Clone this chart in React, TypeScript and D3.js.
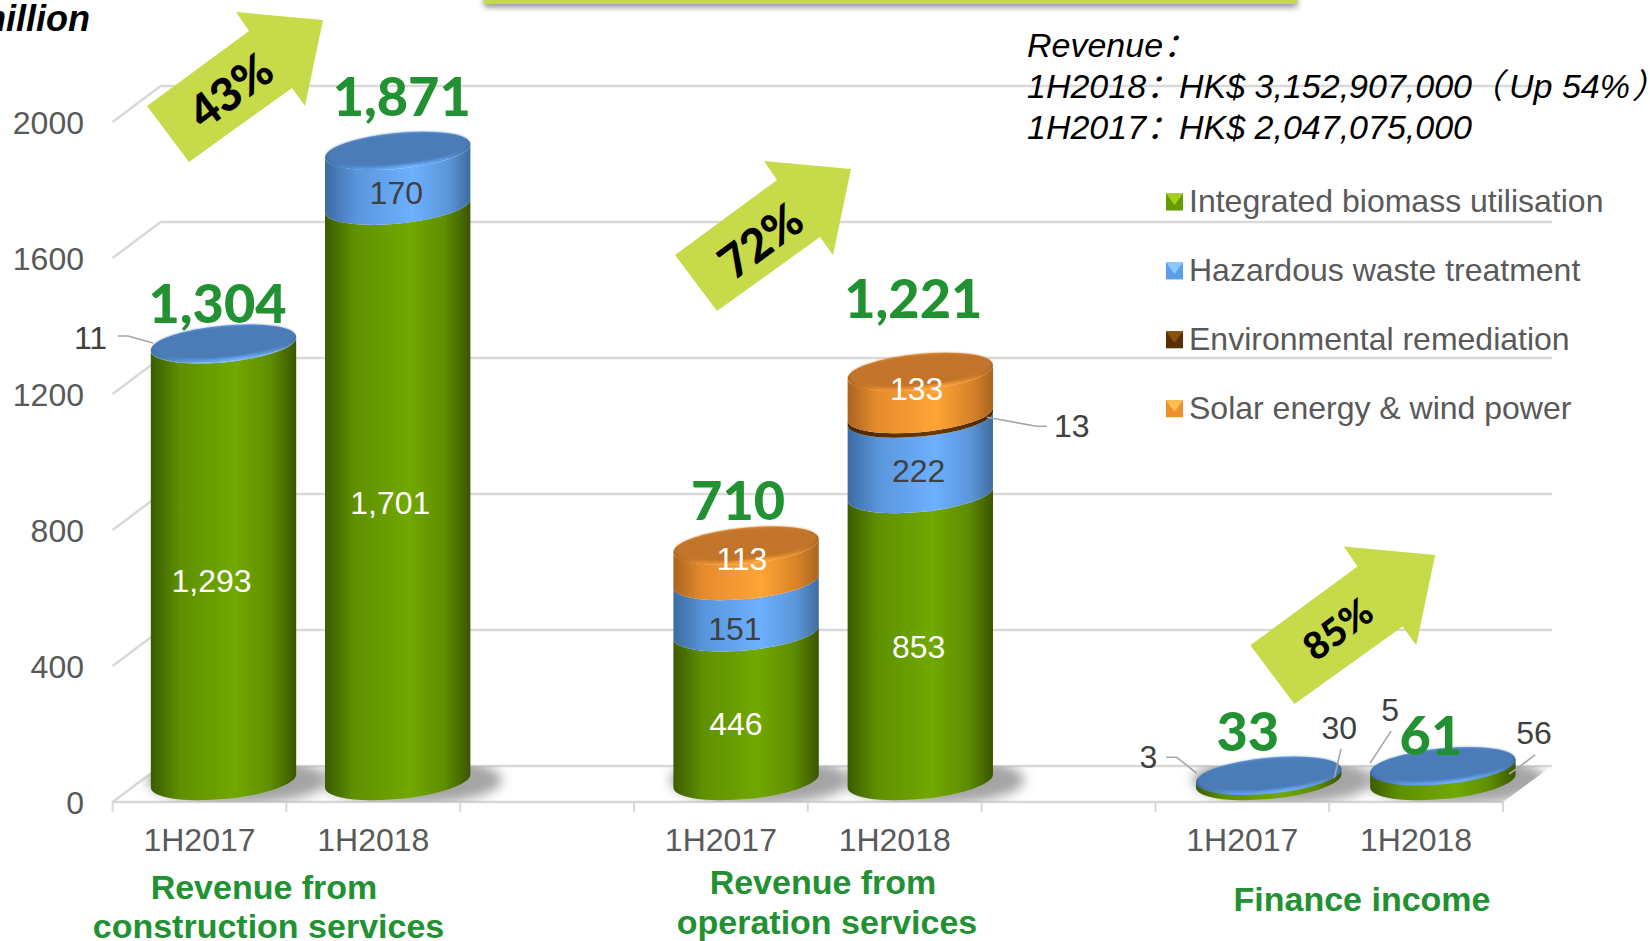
import React from "react";
import * as d3 from "d3";

const periods = ["1H2017", "1H2018", "", "1H2017", "1H2018", "", "1H2017", "1H2018"];
const seriesNames = ["Integrated biomass utilisation", "Hazardous waste treatment", "Environmental remediation", "Solar energy & wind power"];
const biomass = [1293, 1701, 0, 446, 853, 0, 30, 56];
const hazardous = [11, 170, 0, 151, 222, 0, 3, 5];
const remediation = [0, 0, 0, 0, 13, 0, 0, 0];
const solarWind = [0, 0, 0, 113, 133, 0, 0, 0];
const totals = ["1,304", "1,871", "", "710", "1,221", "", "33", "61"];
const yTicks = [0, 400, 800, 1200, 1600, 2000];
const growthLabels = ["43%", "72%", "85%"];
const groupTitles = [["Revenue from", "construction services"], ["Revenue from", "operation services"], ["Finance income"]];

const FONT = "'Liberation Sans', Arial, sans-serif";
const CJK = "'Liberation Sans', 'Noto Sans CJK SC', sans-serif";
const GREEN = "#229131";
const GRID = "#d9d9d9";
const DEPTH_X = 48;
const DEPTH_Y = 36;
const RX = 73;
const RY = 18;
const TILT = -5.5;
const TOP_BEVEL = 3;
const BASE_LIFT = 3;

const x = d3.scaleBand<number>().domain(d3.range(periods.length)).range([112.6, 1503]);
const yBack = d3.scaleLinear().domain([0, 2000]).range([766, 86]);
const yFront = (v: number) => yBack(v) + DEPTH_Y;
const yCyl = (v: number) => yBack(v) + DEPTH_Y / 2;
const anchorX = (i: number) => (x(i) as number) + x.bandwidth() / 2 + DEPTH_X / 2;
const cx = (i: number) => anchorX(i) + i * 0.4;

const rows = periods.map((_, i) => ({ a: biomass[i], b: hazardous[i], c: remediation[i], d: solarWind[i] }));
const stacked = d3.stack<any>().keys(["a", "b", "c", "d"])(rows);
const fills = ["green", "blue", "brown", "orange"];
const topColors = ["#4f7f10", "#4c7cb8", "#5a3000", "#c2742a"];

const th = (TILT * Math.PI) / 180;
const xExt = Math.sqrt(RX * RX * Math.cos(th) ** 2 + RY * RY * Math.sin(th) ** 2);
const dyR = ((RX * RX - RY * RY) * Math.sin(th) * Math.cos(th)) / xExt;

function segPath(c: number, yt: number, yb: number) {
  return `M${c - xExt},${yt - dyR}A${RX},${RY} ${TILT} 0 0 ${c + xExt},${yt + dyR}L${c + xExt},${yb + dyR}A${RX},${RY} ${TILT} 0 1 ${c - xExt},${yb - dyR}Z`;
}

// label placement relative to the segment centre: [bar, series, dx, dy, colour]
const labelPlacement: [number, number, number, number, string][] = [
  [0, 0, -12, 17, "#fff"], [0, 1, -133, -5, "#404040"],
  [1, 0, -7, 8, "#fff"], [1, 1, -1, 16, "#404040"],
  [3, 0, -9, 16, "#fff"], [3, 1, -10, 22, "#404040"], [3, 3, -3, -3, "#fff"],
  [4, 0, 0, 8, "#fff"], [4, 1, 0, 15, "#404040"], [4, 2, 153, 10, "#404040"], [4, 3, -2, -2, "#fff"],
  [6, 0, 73, -51, "#404040"], [6, 1, -118, -16, "#404040"],
  [7, 0, 94, -41, "#404040"], [7, 1, -50, -54, "#404040"],
];
const leaders: [number, number, [number, number][]][] = [
  [0, 1, [[-105.5, -6.5], [-95.5, -6.5], [-70.5, 0.5]]],
  [4, 2, [[128, 10], [118, 10], [68, 1]]],
  [6, 1, [[-100, -16], [-89.5, -16], [-69.5, 0]]],
  [6, 0, [[74.7, -30], [68, -1]]],
  [7, 1, [[-49, -33], [-70, -1]]],
  [7, 0, [[95, -19.5], [79, -7.5], [69, -0.5]]],
];
const totalOffsets: Record<number, [number, number]> = { 0: [-6, -18], 1: [4, -32], 3: [-8, -23], 4: [-7, -51], 6: [-21, -22], 7: [-12, -8] };

const arrowShape = "147,106 189,162 292,88 305,106 323,20 236,12 249,31";
const arrowPlacement = [
  { tx: 0, ty: 0, s: 1, cx: 230, cy: 90, size: 46 },
  { tx: 528, ty: 149, s: 1, cx: 760, cy: 240, size: 46 },
  { tx: 1096, ty: 534, s: 1.05, cx: 1337, cy: 628, size: 38 },
];
const titlePlacement = [
  [[264, 899], [268.5, 938]],
  [[823, 894], [827, 934]],
  [[1362, 911]],
];

const midY = (bar: number, s: number) => yCyl((stacked[s][bar][0] + stacked[s][bar][1]) / 2);

function Grad({ id, stops }: { id: string; stops: [number, string][] }) {
  return (
    <linearGradient id={id} x1="0" x2="1" y1="0" y2="0">
      {stops.map(([o, c]) => <stop key={o} offset={o} stopColor={c} />)}
    </linearGradient>
  );
}

export default function App() {
  const bars = periods.map((p, i) => (p ? i : -1)).filter((i) => i >= 0);
  const ticks = d3.range(periods.length + 1).map((i) => 112.6 + i * x.step());
  return (
    <svg width={1650} height={941} style={{ position: "absolute", left: 0, top: 0, display: "block", background: "#fff" }}>
      <defs>
        <Grad id="green" stops={[[0, "#3c5c00"], [0.2, "#5f9000"], [0.58, "#72a800"], [0.82, "#5f8e00"], [1, "#3b5600"]]} />
        <Grad id="blue" stops={[[0, "#3c6ba2"], [0.22, "#5a96dc"], [0.6, "#6db0ff"], [0.85, "#5b95d8"], [1, "#3f6c9f"]]} />
        <Grad id="brown" stops={[[0, "#4a2800"], [0.6, "#6a3a00"], [1, "#4a2800"]]} />
        <Grad id="orange" stops={[[0, "#a9641f"], [0.2, "#e58b2e"], [0.6, "#ffa436"], [0.85, "#d98328"], [1, "#a9651f"]]} />
        <filter id="blur" x="-30%" y="-60%" width="160%" height="220%"><feGaussianBlur stdDeviation="6" /></filter>
        <filter id="soft" x="-10%" y="-20%" width="120%" height="140%"><feGaussianBlur stdDeviation="1.1" /></filter>
        <filter id="barShadow" x="-5%" y="-100%" width="110%" height="500%"><feDropShadow dx="0" dy="3" stdDeviation="3" floodColor="#000" floodOpacity="0.45" /></filter>
        <clipPath id="floor"><polygon points={`112.6,${yFront(0)} 160.6,${yBack(0)} 1552,${yBack(0)} 1503,${yFront(0)}`} /></clipPath>
      </defs>

      <rect x={484} y={-6} width={813} height={10} fill="#c5d94a" filter="url(#barShadow)" />

      {yTicks.map((t) => (
        <g key={t}>
          <polyline points={`112.6,${yFront(t)} 160.6,${yBack(t)} 1552,${yBack(t)}`} fill="none" stroke={GRID} strokeWidth={2.5} />
          <text x={84} y={yFront(t) + 12} textAnchor="end" fontFamily={FONT} fontSize={32} fill="#595959">{t}</text>
        </g>
      ))}
      <line x1={112.6} x2={1503} y1={yFront(0)} y2={yFront(0)} stroke={GRID} strokeWidth={2.5} />
      {ticks.map((t) => <line key={t} x1={t} x2={t} y1={yFront(0)} y2={yFront(0) + 10} stroke={GRID} strokeWidth={2} />)}

      <g clipPath="url(#floor)">
        {bars.map((i) => (
          <ellipse key={i} cx={cx(i) + 14} cy={yCyl(0) - 4} rx={90} ry={24} fill="#a4a4a4" filter="url(#blur)" />
        ))}
      </g>

      {bars.map((i) => {
        const c = cx(i);
        const topIdx = [3, 2, 1, 0].find((s) => stacked[s][i][1] - stacked[s][i][0] > 0) as number;
        const yTop = yCyl(stacked[topIdx][i][1]) + TOP_BEVEL;
        return (
          <g key={i}>
            {stacked.map((layer, s) => {
              const v0 = layer[i][0], v1 = layer[i][1];
              if (v1 - v0 <= 0) return null;
              const yt = s === topIdx ? yTop : yCyl(v1);
              const yb = v0 === 0 ? yCyl(0) - BASE_LIFT : yCyl(v0);
              if (yt >= yb) return null;
              return <path key={s} d={segPath(c, yt, yb)} fill={`url(#${fills[s]})`} />;
            })}
            <ellipse cx={c} cy={yTop} rx={RX} ry={RY} transform={`rotate(${TILT} ${c} ${yTop})`} fill={`url(#${fills[topIdx]})`} />
            <ellipse cx={c} cy={yTop - 1.5} rx={RX - 1.5} ry={RY - 2} transform={`rotate(${TILT} ${c} ${yTop - 1.5})`} fill={topColors[topIdx]} filter="url(#soft)" />
          </g>
        );
      })}

      {leaders.map(([b, s, pts], k) => (
        <polyline key={k} points={pts.map(([dx, dy]) => `${anchorX(b) + dx},${midY(b, s) + dy}`).join(" ")} fill="none" stroke="#a6a6a6" strokeWidth={1.6} />
      ))}

      {labelPlacement.map(([b, s, dx, dy, col]) => (
        <text key={`${b}-${s}`} x={anchorX(b) + dx} y={midY(b, s) + dy + 11} textAnchor="middle" fontFamily={FONT} fontSize={32} fill={col}>
          {d3.format(",")(stacked[s][b][1] - stacked[s][b][0])}
        </text>
      ))}

      {bars.map((i) => {
        const topV = stacked[3][i][1];
        const [dx, dy] = totalOffsets[i];
        return (
          <text key={i} x={cx(i) + dx} y={yCyl(topV) + dy} textAnchor="middle" fontFamily="Lato, sans-serif" fontWeight={900} fontSize={54} fill={GREEN}>
            {totals[i]}
          </text>
        );
      })}

      {periods.map((p, i) => p && (
        <text key={i} x={(x(i) as number) + x.bandwidth() / 2} y={851} textAnchor="middle" fontFamily={FONT} fontSize={32} fill="#595959">{p}</text>
      ))}

      {groupTitles.map((lines, g) => lines.map((l, k) => (
        <text key={`${g}-${k}`} x={titlePlacement[g][k][0]} y={titlePlacement[g][k][1]} textAnchor="middle" fontFamily={FONT} fontWeight={700} fontSize={34} fill={GREEN}>{l}</text>
      )))}

      {arrowPlacement.map((a, k) => (
        <g key={k}>
          <polygon points={arrowShape} fill="#c6da4a" transform={`translate(${a.tx} ${a.ty}) scale(${a.s})`} />
          <text x={a.cx} y={a.cy} transform={`rotate(-36.5 ${a.cx} ${a.cy})`} textAnchor="middle" dominantBaseline="central" fontFamily="Lato, sans-serif" fontWeight={900} fontSize={a.size} fill="#000">{growthLabels[k]}</text>
        </g>
      ))}

      <text x={90} y={31} textAnchor="end" fontFamily={FONT} fontWeight={700} fontStyle="italic" fontSize={36} fill="#000">million</text>

      <g fontFamily={CJK} fontStyle="italic" fontSize={34} fill="#000">
        <text x={1027} y={57}>Revenue：</text>
        <text x={1027} y={98}>1H2018：</text>
        <text x={1179} y={98}>
          HK$ 3,152,907,000
          <tspan dx={-3} style={{ letterSpacing: "6px" }}>（</tspan>
          <tspan>Up 54%</tspan>
          <tspan dx={2} style={{ letterSpacing: "-17px" }}>）</tspan>
        </text>
        <text x={1027} y={139}>1H2017：</text>
        <text x={1179} y={139}>HK$ 2,047,075,000</text>
      </g>

      {seriesNames.map((n, i) => {
        const cy = 202 + i * 68.9;
        const light = ["#a5d020", "#8ac6ff", "#8a5010", "#ffbe50"][i];
        const mid = ["#669a00", "#5c9ee8", "#5a3000", "#ee9030"][i];
        return (
          <g key={n}>
            <rect x={1166} y={cy - 8.5} width={17} height={17} fill={mid} />
            <polygon points={`1166,${cy - 8.5} 1183,${cy - 8.5} 1174.5,${cy + 3}`} fill={light} />
            <text x={1189} y={cy + 10} fontFamily={FONT} fontSize={32} fill="#595959">{n}</text>
          </g>
        );
      })}
    </svg>
  );
}
